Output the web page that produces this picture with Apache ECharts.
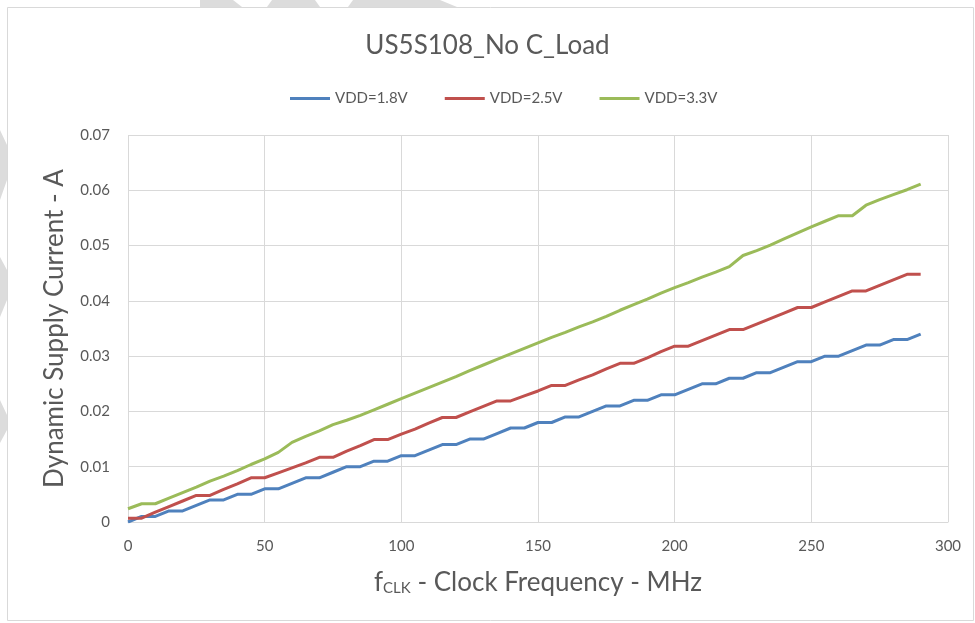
<!DOCTYPE html>
<html>
<head>
<meta charset="utf-8">
<script src="https://cdn.jsdelivr.net/npm/echarts@6/dist/echarts.min.js"></script>
<style>
html,body{margin:0;padding:0;background:#fff;}
#chart{width:975px;height:623px;}
</style>
</head>
<body>
<div id="chart"></div>
<script>
// Clock frequency (MHz)
var freqMHz = [0,5,10,15,20,25,30,35,40,45,50,55,60,65,70,75,80,85,90,95,100,105,110,115,120,125,130,135,140,145,150,155,160,165,170,175,180,185,190,195,200,205,210,215,220,225,230,235,240,245,250,255,260,265,270,275,280,285,290];
// Dynamic supply current (A)
var vdd18 = [0.0000,0.0010,0.0010,0.0020,0.0020,0.0030,0.0040,0.0040,0.0050,0.0050,0.0060,0.0060,0.0070,0.0080,0.0080,0.0090,0.0100,0.0100,0.0110,0.0110,0.0120,0.0120,0.0130,0.0140,0.0140,0.0150,0.0150,0.0160,0.0170,0.0170,0.0180,0.0180,0.0190,0.0190,0.0200,0.0210,0.0210,0.0220,0.0220,0.0230,0.0230,0.0240,0.0250,0.0250,0.0260,0.0260,0.0270,0.0270,0.0280,0.0290,0.0290,0.0300,0.0300,0.0310,0.0320,0.0320,0.0330,0.0330,0.0340];
var vdd25 = [0.0007,0.0007,0.0018,0.0028,0.0038,0.0048,0.0048,0.0059,0.0069,0.0080,0.0080,0.0089,0.0098,0.0107,0.0117,0.0117,0.0128,0.0138,0.0149,0.0149,0.0159,0.0168,0.0179,0.0189,0.0189,0.0199,0.0209,0.0219,0.0219,0.0228,0.0237,0.0247,0.0247,0.0257,0.0266,0.0277,0.0287,0.0287,0.0297,0.0308,0.0318,0.0318,0.0328,0.0338,0.0348,0.0348,0.0358,0.0368,0.0378,0.0388,0.0388,0.0398,0.0408,0.0418,0.0418,0.0428,0.0438,0.0448,0.0448];
var vdd33 = [0.0024,0.0033,0.0033,0.0043,0.0053,0.0063,0.0074,0.0083,0.0093,0.0104,0.0114,0.0126,0.0144,0.0155,0.0165,0.0176,0.0184,0.0193,0.0203,0.0213,0.0223,0.0233,0.0243,0.0253,0.0263,0.0274,0.0284,0.0294,0.0304,0.0314,0.0324,0.0334,0.0343,0.0353,0.0362,0.0372,0.0383,0.0393,0.0403,0.0414,0.0424,0.0433,0.0443,0.0452,0.0462,0.0482,0.0491,0.0501,0.0512,0.0523,0.0534,0.0544,0.0554,0.0554,0.0573,0.0583,0.0592,0.0601,0.0611];
var seriesNames = ['VDD=1.8V','VDD=2.5V','VDD=3.3V'];
var xTicks = [0,50,100,150,200,250,300];
var yTicks = [0,0.01,0.02,0.03,0.04,0.05,0.06,0.07];
var titleText = 'US5S108_No C_Load';

function pairs(ys){ return freqMHz.map(function(x,i){ return [x, ys[i]]; }); }
var colors = ['#4F81BD','#C0504D','#9BBB59'];
var FONT = 'Lato';
var WM = '#dcdcdc';
var chart = echarts.init(document.getElementById('chart'), null, {renderer:'canvas'});
var series = [vdd18, vdd25, vdd33].map(function(ys, i){
  return {
    name: seriesNames[i], type:'line', data: pairs(ys),
    showSymbol:false, symbol:'none', smooth:false,
    lineStyle:{color:colors[i], width:3, join:'round'},
    itemStyle:{color:colors[i]}
  };
});
function poly(pts){ return {type:'polygon', shape:{points:pts}, style:{fill:WM}, silent:true, z:-2}; }
chart.setOption({
  backgroundColor:'#fff',
  animation:false,
  color: colors,
  title:{text:titleText, left:'center', top:28, textStyle:{fontFamily:FONT, fontSize:26, fontWeight:'normal', color:'#595959'}},
  legend:{data:seriesNames, top:86, left:285, icon:'rect', itemWidth:40, itemHeight:3, itemGap:37,
    textStyle:{fontFamily:FONT, fontSize:15, color:'#595959'}},
  grid:{left:128, right:27, top:135, bottom:101, containLabel:false},
  xAxis:{type:'value', min:xTicks[0], max:xTicks[xTicks.length-1], interval:50,
    axisLine:{show:true, lineStyle:{color:'#d9d9d9', width:1}}, axisTick:{show:false},
    splitLine:{show:true, lineStyle:{color:'#d9d9d9', width:1}},
    axisLabel:{fontFamily:FONT, fontSize:15, color:'#595959', margin:17},
    name:'{a|f}{b|CLK}{a| - Clock Frequency - MHz}', nameLocation:'middle', nameGap:47,
    nameTextStyle:{rich:{a:{fontFamily:FONT, fontSize:26, color:'#595959'}, b:{fontFamily:FONT, fontSize:15, color:'#595959', padding:[12,0,0,0]}}}
  },
  yAxis:{type:'value', min:yTicks[0], max:yTicks[yTicks.length-1], interval:0.01,
    axisLine:{show:false}, axisTick:{show:false},
    splitLine:{show:true, lineStyle:{color:'#d9d9d9', width:1}},
    axisLabel:{fontFamily:FONT, fontSize:15, color:'#595959', margin:18, formatter:function(v){ return v===0?'0':v.toFixed(2);} },
    name:'Dynamic Supply Current - A', nameLocation:'middle', nameGap:60, nameRotate:90,
    nameTextStyle:{fontFamily:FONT, fontSize:26, color:'#595959'}
  },
  graphic:[
    poly([[200,0],[233,0],[242,7],[200,7]]),
    poly([[272,0],[315,0],[320,7],[267,7]]),
    poly([[353,0],[440,0],[457,7],[348,7]]),
    poly([[0,130],[7,145],[7,180],[0,200]]),
    poly([[0,257],[7,270],[7,300],[0,317]]),
    poly([[0,400],[7,415],[7,430],[0,443]]),
    {type:'rect', shape:{x:7.5,y:7.5,width:966,height:613}, style:{fill:'none', stroke:'#d9d9d9', lineWidth:1}, silent:true, z:-1}
  ],
  series: series
});
</script>
</body>
</html>
